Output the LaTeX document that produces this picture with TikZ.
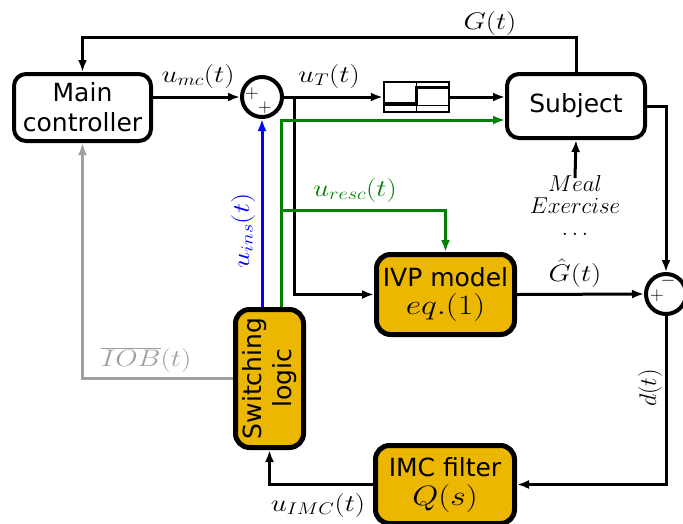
\RequirePackage{fix-cm}
\documentclass[tikz,border=0pt]{standalone}
\usepackage{fontspec}
\usepackage{graphicx}
\setmainfont{DejaVu Sans}
\usetikzlibrary{arrows.meta,calc}
\definecolor{myyellow}{RGB}{236,183,0}
\definecolor{mygreen}{RGB}{0,128,0}
\definecolor{mygray}{RGB}{160,160,160}
\newcommand\boxfont{\fontsize{25}{30}\selectfont}
\newcommand\labfont{\fontsize{24}{28}\selectfont}
\newcommand\bigmath{\fontsize{28}{30}\selectfont}
\newcommand\signfont{\fontsize{19}{19}\selectfont}
\newcommand\sx[1]{\scalebox{1.2}[1]{#1}}
\begin{document}
\begin{tikzpicture}[x=1pt,y=-1pt,
  wbox/.style={draw, line width=4pt, rounded corners=12pt, fill=white, align=center, font=\boxfont, inner sep=0pt},
  ybox/.style={draw, line width=5pt, rounded corners=14pt, fill=myyellow, align=center, font=\boxfont, inner sep=0pt},
  sumc/.style={draw, circle, line width=4pt, minimum size=40pt, inner sep=0pt, fill=white},
  conn/.style={line width=3pt, -{Latex[length=12pt,width=9pt]}},
  lab/.style={font=\labfont, inner sep=0pt},
  sign/.style={font=\signfont, inner sep=0pt},
]
\useasboundingbox (0,0) rectangle (683,523);

% blocks
\node[wbox, minimum width=137pt, minimum height=67pt] (mc) at (82.5,107.5) {Main\\controller};
\node[sumc] (s1) at (262,97) {};
\node[sign] (p1) at (252,94) {$+$};
\node[sign] (p2) at (265,108) {$+$};
\node[draw, line width=2.5pt, minimum width=65pt, minimum height=30pt, inner sep=0pt] (zoh) at (416.5,97) {};
\draw[line width=1pt] (zoh.north) -- (zoh.south);
\draw[line width=1pt] (383,105.5) -- (450,105.5);
\draw[line width=3pt] (384,103.5) -- (416.5,103.5) -- (416.5,87.5) -- (449,87.5);
\node[wbox, minimum width=138pt, minimum height=64pt] (subj) at (576,106) {Subject};
\node[ybox, minimum width=138pt, minimum height=80pt] (ivp) at (445.5,294.5) {IVP model\\[-2pt]{\bigmath\sx{$eq.(1)$}}};
\node[ybox, minimum width=139pt, minimum height=78pt] (imc) at (445,484.5) {IMC filter\\[-1pt]{\bigmath\sx{$Q(s)$}}};
\node[ybox, minimum width=68pt, minimum height=138pt] (sw) at (269.5,378.5) {};
\node[rotate=90, align=center, font=\boxfont, inner sep=0pt] (swt) at (sw.center) {Switching\\logic};
\node[sumc] (s2) at (666,294) {};
\node[sign] (m2) at (668,281) {$-$};
\node[sign] (p3) at (657,296) {$+$};

% disturbances
\node[align=center, font=\fontsize{23}{22}\selectfont, inner sep=0pt] (dist) at (575,206) {$Meal$\\$Exercise$\\$\dots$};
\coordinate (dtop) at (575,178);

% black connectors
\draw[conn] (s1 -| mc.east) -- (s1.west);
\node[lab] (lmc) at (198,76) {\sx{$u_{mc}(t)$}};
\draw[conn] (s1.east) -- (zoh.west);
\node[lab] (lT) at (329,76) {\sx{$u_T(t)$}};
\draw[conn] (zoh.east) -- (zoh.east -| subj.west);
\coordinate (gt) at (576,37);
\draw[conn] (subj.north) -- (subj.north |- gt) -- (mc.north |- gt) -- (mc.north);
\node[lab] (lG) at (490,23) {\sx{$G(t)$}};
\draw[conn] (subj.east) -- (subj.east -| s2.north) -- (s2.north);
\draw[conn] (dtop) -- (subj.south);
\draw[conn] (ivp.east) -- (s2.west);
\node[lab] (lGh) at (575,273) {\sx{$\hat{G}(t)$}};
\draw[conn] (s2.south) -- (s2.south |- imc.east) -- (imc.east);
\node[font=\fontsize{24}{26}\selectfont, inner sep=0pt, rotate=90] (ld) at (650,388) {$d(t)$};
\draw[conn] (imc.west) -- (imc.west -| sw.south) -- (sw.south);
\node[lab] (lIMC) at (318,505) {\sx{$u_{IMC}(t)$}};
\coordinate (bj) at (294,97);
\draw[conn] (bj) -- (bj |- ivp.west) -- (ivp.west);

% gray
\draw[conn, mygray] (sw.west) -- (sw.west -| mc.south) -- (mc.south);
\node[lab, text=mygray] (lIOB) at (146,360) {\sx{$\overline{IOB}(t)$}};

% blue
\draw[conn, blue] (sw.north -| s1.south) -- (s1.south);
\node[font=\fontsize{24}{26}\selectfont, text=blue, rotate=90, inner sep=0pt] (lins) at (243,231) {\sx{$u_{ins}(t)$}};

% green
\coordinate (gx) at (281,120);
\draw[conn, mygreen] (sw.north -| gx) -- (gx) -- (gx -| subj.west);
\coordinate (gb) at (281,210);
\draw[conn, mygreen] (gb) -- (gb -| ivp.north) -- (ivp.north);
\node[lab, text=mygreen] (lresc) at (355,190) {\sx{$u_{resc}(t)$}};
\end{tikzpicture}
\end{document}
